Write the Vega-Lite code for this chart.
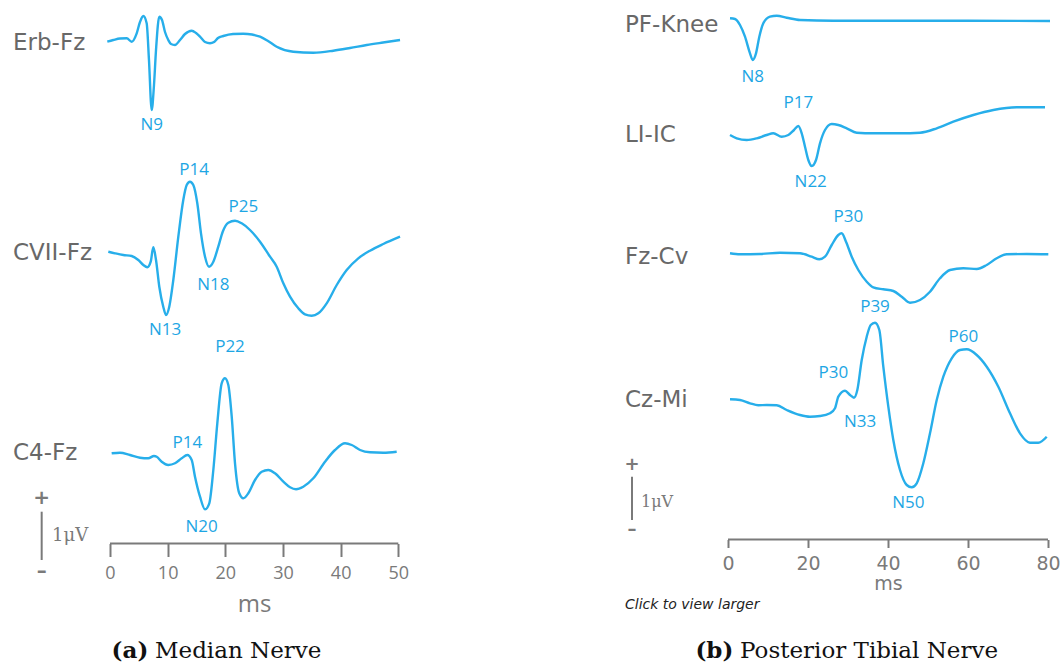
{
  "$schema": "https://vega.github.io/schema/vega-lite/v6.json",
  "padding": 0,
  "spacing": 0,
  "config": {"view": {"stroke": null}, "concat": {"spacing": 0}},
  "datasets": {
    "median": [
      {"trace":"Erb-Fz","t":-0.47,"v":620.3},{"trace":"Erb-Fz","t":0.57,"v":622},{"trace":"Erb-Fz","t":1.73,"v":623.5},{"trace":"Erb-Fz","t":2.9,"v":623.7},{"trace":"Erb-Fz","t":3.76,"v":620.3},{"trace":"Erb-Fz","t":4.63,"v":628.7},{"trace":"Erb-Fz","t":5.2,"v":640},{"trace":"Erb-Fz","t":5.78,"v":646},{"trace":"Erb-Fz","t":6.36,"v":638.7},{"trace":"Erb-Fz","t":6.76,"v":602},{"trace":"Erb-Fz","t":7.23,"v":552},{"trace":"Erb-Fz","t":7.63,"v":577},{"trace":"Erb-Fz","t":7.98,"v":612},{"trace":"Erb-Fz","t":8.55,"v":645.3},{"trace":"Erb-Fz","t":9.02,"v":642},{"trace":"Erb-Fz","t":9.54,"v":630},{"trace":"Erb-Fz","t":10.11,"v":622},{"trace":"Erb-Fz","t":10.58,"v":618},{"trace":"Erb-Fz","t":11.27,"v":617},{"trace":"Erb-Fz","t":12.14,"v":622},{"trace":"Erb-Fz","t":13.01,"v":628},{"trace":"Erb-Fz","t":14.17,"v":631.3},{"trace":"Erb-Fz","t":14.92,"v":629},{"trace":"Erb-Fz","t":15.61,"v":625.3},{"trace":"Erb-Fz","t":16.48,"v":620},{"trace":"Erb-Fz","t":17.34,"v":618.7},{"trace":"Erb-Fz","t":18.04,"v":620},{"trace":"Erb-Fz","t":18.73,"v":624},{"trace":"Erb-Fz","t":19.65,"v":626},{"trace":"Erb-Fz","t":21.33,"v":628},{"trace":"Erb-Fz","t":23.12,"v":628.3},{"trace":"Erb-Fz","t":24.63,"v":627.5},{"trace":"Erb-Fz","t":26.02,"v":625.3},{"trace":"Erb-Fz","t":27.4,"v":621},{"trace":"Erb-Fz","t":28.91,"v":615.3},{"trace":"Erb-Fz","t":31.79,"v":610.3},{"trace":"Erb-Fz","t":35.26,"v":609.3},{"trace":"Erb-Fz","t":38.73,"v":611.3},{"trace":"Erb-Fz","t":41.62,"v":614},{"trace":"Erb-Fz","t":44.52,"v":617},{"trace":"Erb-Fz","t":47.35,"v":619.5},{"trace":"Erb-Fz","t":50.3,"v":622},
      {"trace":"CVII-Fz","t":-0.29,"v":410.3},{"trace":"CVII-Fz","t":0.87,"v":408.7},{"trace":"CVII-Fz","t":2.31,"v":407},{"trace":"CVII-Fz","t":3.76,"v":406},{"trace":"CVII-Fz","t":4.91,"v":402},{"trace":"CVII-Fz","t":5.78,"v":397},{"trace":"CVII-Fz","t":6.47,"v":394.7},{"trace":"CVII-Fz","t":7.06,"v":400.3},{"trace":"CVII-Fz","t":7.51,"v":414.7},{"trace":"CVII-Fz","t":7.98,"v":402},{"trace":"CVII-Fz","t":8.55,"v":375.3},{"trace":"CVII-Fz","t":9.24,"v":355.3},{"trace":"CVII-Fz","t":9.71,"v":347},{"trace":"CVII-Fz","t":10.28,"v":355.3},{"trace":"CVII-Fz","t":10.98,"v":382},{"trace":"CVII-Fz","t":11.85,"v":425.3},{"trace":"CVII-Fz","t":12.71,"v":462},{"trace":"CVII-Fz","t":13.3,"v":477},{"trace":"CVII-Fz","t":13.87,"v":480.3},{"trace":"CVII-Fz","t":14.45,"v":477},{"trace":"CVII-Fz","t":15.14,"v":458.7},{"trace":"CVII-Fz","t":15.78,"v":428.7},{"trace":"CVII-Fz","t":16.48,"v":405.3},{"trace":"CVII-Fz","t":17.17,"v":395.3},{"trace":"CVII-Fz","t":17.92,"v":400.3},{"trace":"CVII-Fz","t":18.78,"v":415.3},{"trace":"CVII-Fz","t":19.55,"v":430.3},{"trace":"CVII-Fz","t":20.52,"v":439.3},{"trace":"CVII-Fz","t":21.68,"v":441.3},{"trace":"CVII-Fz","t":22.84,"v":438.7},{"trace":"CVII-Fz","t":24.28,"v":432},{"trace":"CVII-Fz","t":26.02,"v":420.3},{"trace":"CVII-Fz","t":27.75,"v":405.3},{"trace":"CVII-Fz","t":28.91,"v":395.3},{"trace":"CVII-Fz","t":30.06,"v":378.7},{"trace":"CVII-Fz","t":31.22,"v":365.3},{"trace":"CVII-Fz","t":32.66,"v":353.7},{"trace":"CVII-Fz","t":33.82,"v":347.7},{"trace":"CVII-Fz","t":34.98,"v":346.3},{"trace":"CVII-Fz","t":36.13,"v":348.7},{"trace":"CVII-Fz","t":37.58,"v":358.7},{"trace":"CVII-Fz","t":39.32,"v":377},{"trace":"CVII-Fz","t":41.05,"v":392},{"trace":"CVII-Fz","t":43.06,"v":403.7},{"trace":"CVII-Fz","t":45.09,"v":411.3},{"trace":"CVII-Fz","t":47.4,"v":418},{"trace":"CVII-Fz","t":50.3,"v":425.3},
      {"trace":"C4-Fz","t":0.29,"v":208.7},{"trace":"C4-Fz","t":1.73,"v":209.3},{"trace":"C4-Fz","t":3.47,"v":207},{"trace":"C4-Fz","t":5.2,"v":204.3},{"trace":"C4-Fz","t":6.64,"v":203.7},{"trace":"C4-Fz","t":7.63,"v":206},{"trace":"C4-Fz","t":8.1,"v":205.3},{"trace":"C4-Fz","t":8.97,"v":200.3},{"trace":"C4-Fz","t":10.11,"v":197},{"trace":"C4-Fz","t":11.27,"v":198.7},{"trace":"C4-Fz","t":12.43,"v":203.7},{"trace":"C4-Fz","t":13.41,"v":207},{"trace":"C4-Fz","t":14.17,"v":202},{"trace":"C4-Fz","t":14.74,"v":185.3},{"trace":"C4-Fz","t":15.61,"v":165.3},{"trace":"C4-Fz","t":16.48,"v":152.7},{"trace":"C4-Fz","t":17.22,"v":158.7},{"trace":"C4-Fz","t":17.92,"v":192},{"trace":"C4-Fz","t":18.61,"v":238.7},{"trace":"C4-Fz","t":19.37,"v":278.7},{"trace":"C4-Fz","t":19.94,"v":283.7},{"trace":"C4-Fz","t":20.52,"v":277},{"trace":"C4-Fz","t":21.11,"v":245.3},{"trace":"C4-Fz","t":21.68,"v":198.7},{"trace":"C4-Fz","t":22.42,"v":168.7},{"trace":"C4-Fz","t":23.12,"v":163.7},{"trace":"C4-Fz","t":23.99,"v":168.7},{"trace":"C4-Fz","t":25.15,"v":182},{"trace":"C4-Fz","t":26.31,"v":190.3},{"trace":"C4-Fz","t":27.45,"v":192},{"trace":"C4-Fz","t":28.62,"v":188.7},{"trace":"C4-Fz","t":30.06,"v":180.3},{"trace":"C4-Fz","t":31.22,"v":174.7},{"trace":"C4-Fz","t":32.26,"v":172.7},{"trace":"C4-Fz","t":33.52,"v":175.3},{"trace":"C4-Fz","t":35.26,"v":183.7},{"trace":"C4-Fz","t":37.29,"v":200.3},{"trace":"C4-Fz","t":39.02,"v":212},{"trace":"C4-Fz","t":40.76,"v":218.7},{"trace":"C4-Fz","t":41.92,"v":217},{"trace":"C4-Fz","t":43.36,"v":212},{"trace":"C4-Fz","t":45.09,"v":209.7},{"trace":"C4-Fz","t":47.4,"v":209.3},{"trace":"C4-Fz","t":49.72,"v":210.3}
    ],
    "tibial": [
      {"trace":"PF-Knee","t":0.5,"v":643.7},{"trace":"PF-Knee","t":1.75,"v":643},{"trace":"PF-Knee","t":3,"v":637},{"trace":"PF-Knee","t":4.25,"v":625.3},{"trace":"PF-Knee","t":5.5,"v":608.7},{"trace":"PF-Knee","t":6.18,"v":602},{"trace":"PF-Knee","t":7,"v":608.7},{"trace":"PF-Knee","t":7.83,"v":625.3},{"trace":"PF-Knee","t":8.83,"v":638.7},{"trace":"PF-Knee","t":10.5,"v":645.3},{"trace":"PF-Knee","t":12.18,"v":646.3},{"trace":"PF-Knee","t":14.68,"v":644.3},{"trace":"PF-Knee","t":18,"v":642},{"trace":"PF-Knee","t":26.33,"v":641.3},{"trace":"PF-Knee","t":43,"v":641.3},{"trace":"PF-Knee","t":59.68,"v":641.3},{"trace":"PF-Knee","t":80.5,"v":641},
      {"trace":"LI-IC","t":0.5,"v":527},{"trace":"LI-IC","t":2.18,"v":523.7},{"trace":"LI-IC","t":4.68,"v":522},{"trace":"LI-IC","t":7.18,"v":523.7},{"trace":"LI-IC","t":9.68,"v":527},{"trace":"LI-IC","t":11.33,"v":528.7},{"trace":"LI-IC","t":13.43,"v":525.3},{"trace":"LI-IC","t":15.08,"v":527},{"trace":"LI-IC","t":16.5,"v":532},{"trace":"LI-IC","t":17.58,"v":536},{"trace":"LI-IC","t":18.43,"v":528.7},{"trace":"LI-IC","t":19.25,"v":515.3},{"trace":"LI-IC","t":20.08,"v":502},{"trace":"LI-IC","t":20.93,"v":496},{"trace":"LI-IC","t":22,"v":502},{"trace":"LI-IC","t":23,"v":518.7},{"trace":"LI-IC","t":24.25,"v":532},{"trace":"LI-IC","t":25.93,"v":538},{"trace":"LI-IC","t":27.58,"v":537},{"trace":"LI-IC","t":29.68,"v":533.7},{"trace":"LI-IC","t":32.18,"v":529.3},{"trace":"LI-IC","t":36.33,"v":528.7},{"trace":"LI-IC","t":43,"v":528.7},{"trace":"LI-IC","t":48,"v":529.3},{"trace":"LI-IC","t":52.18,"v":533.7},{"trace":"LI-IC","t":56.33,"v":540.3},{"trace":"LI-IC","t":61.33,"v":547},{"trace":"LI-IC","t":66.33,"v":552},{"trace":"LI-IC","t":72.18,"v":554.7},{"trace":"LI-IC","t":79.25,"v":554.7},
      {"trace":"Fz-Cv","t":0.5,"v":408.7},{"trace":"Fz-Cv","t":3,"v":407.7},{"trace":"Fz-Cv","t":8,"v":408},{"trace":"Fz-Cv","t":13,"v":409.3},{"trace":"Fz-Cv","t":18,"v":408.7},{"trace":"Fz-Cv","t":20.93,"v":405.3},{"trace":"Fz-Cv","t":22.83,"v":402.7},{"trace":"Fz-Cv","t":24.25,"v":405.3},{"trace":"Fz-Cv","t":25.93,"v":417},{"trace":"Fz-Cv","t":27.58,"v":427},{"trace":"Fz-Cv","t":28.43,"v":428.7},{"trace":"Fz-Cv","t":29.5,"v":420.3},{"trace":"Fz-Cv","t":30.93,"v":405.3},{"trace":"Fz-Cv","t":32.58,"v":392},{"trace":"Fz-Cv","t":34.68,"v":380.3},{"trace":"Fz-Cv","t":36.33,"v":374.7},{"trace":"Fz-Cv","t":38.83,"v":372.7},{"trace":"Fz-Cv","t":41.33,"v":371},{"trace":"Fz-Cv","t":43.43,"v":365.3},{"trace":"Fz-Cv","t":45.5,"v":359.3},{"trace":"Fz-Cv","t":48,"v":362},{"trace":"Fz-Cv","t":50.5,"v":370.3},{"trace":"Fz-Cv","t":53,"v":383.7},{"trace":"Fz-Cv","t":55.5,"v":392},{"trace":"Fz-Cv","t":58.83,"v":393.7},{"trace":"Fz-Cv","t":62.18,"v":393},{"trace":"Fz-Cv","t":64.68,"v":397},{"trace":"Fz-Cv","t":67.18,"v":403.7},{"trace":"Fz-Cv","t":69.68,"v":407.7},{"trace":"Fz-Cv","t":74.68,"v":408},{"trace":"Fz-Cv","t":80.08,"v":407.7},
      {"trace":"Cz-Mi","t":0.5,"v":262.7},{"trace":"Cz-Mi","t":3,"v":262},{"trace":"Cz-Mi","t":5.5,"v":258.7},{"trace":"Cz-Mi","t":7.58,"v":256.7},{"trace":"Cz-Mi","t":9.68,"v":257},{"trace":"Cz-Mi","t":12.18,"v":256.7},{"trace":"Cz-Mi","t":14.68,"v":252},{"trace":"Cz-Mi","t":18,"v":247},{"trace":"Cz-Mi","t":20.5,"v":245.3},{"trace":"Cz-Mi","t":23,"v":246},{"trace":"Cz-Mi","t":25.5,"v":248.7},{"trace":"Cz-Mi","t":26.75,"v":253.7},{"trace":"Cz-Mi","t":27.58,"v":265.3},{"trace":"Cz-Mi","t":29.25,"v":271.3},{"trace":"Cz-Mi","t":30.5,"v":267},{"trace":"Cz-Mi","t":31.5,"v":264.3},{"trace":"Cz-Mi","t":32.33,"v":272},{"trace":"Cz-Mi","t":33.43,"v":302},{"trace":"Cz-Mi","t":34.68,"v":325.3},{"trace":"Cz-Mi","t":35.68,"v":337},{"trace":"Cz-Mi","t":36.75,"v":339.3},{"trace":"Cz-Mi","t":37.83,"v":332},{"trace":"Cz-Mi","t":38.83,"v":295.3},{"trace":"Cz-Mi","t":40.08,"v":255.3},{"trace":"Cz-Mi","t":41.33,"v":222},{"trace":"Cz-Mi","t":43,"v":192},{"trace":"Cz-Mi","t":44.68,"v":177},{"trace":"Cz-Mi","t":45.93,"v":174.7},{"trace":"Cz-Mi","t":47.18,"v":178.7},{"trace":"Cz-Mi","t":48.83,"v":198.7},{"trace":"Cz-Mi","t":50.5,"v":228.7},{"trace":"Cz-Mi","t":52.18,"v":262},{"trace":"Cz-Mi","t":53.83,"v":285.3},{"trace":"Cz-Mi","t":55.93,"v":303.7},{"trace":"Cz-Mi","t":58,"v":312},{"trace":"Cz-Mi","t":59.68,"v":312.7},{"trace":"Cz-Mi","t":62.18,"v":307},{"trace":"Cz-Mi","t":64.68,"v":295.3},{"trace":"Cz-Mi","t":67.58,"v":275.3},{"trace":"Cz-Mi","t":70.5,"v":248.7},{"trace":"Cz-Mi","t":73,"v":228.7},{"trace":"Cz-Mi","t":75.5,"v":219.3},{"trace":"Cz-Mi","t":77.58,"v":219.3},{"trace":"Cz-Mi","t":79.68,"v":225.3}
    ],
    "medianPeaks": [
      {"label":"N9","t":7.23,"v":537},{"label":"P14","t":14.57,"v":492},{"label":"P25","t":23.12,"v":455.3},{"label":"N18","t":17.92,"v":377},{"label":"N13","t":9.54,"v":332},{"label":"P22","t":20.81,"v":315.3},{"label":"P14","t":13.41,"v":219},{"label":"N20","t":15.9,"v":135.3}
    ],
    "tibialPeaks": [
      {"label":"N8","t":6.18,"v":585.3},{"label":"P17","t":17.58,"v":558.7},{"label":"N22","t":20.68,"v":480.3},{"label":"P30","t":30.08,"v":445.3},{"label":"P39","t":36.75,"v":355},{"label":"P30","t":26.33,"v":288.7},{"label":"N33","t":33,"v":240.3},{"label":"P60","t":58.83,"v":325.3},{"label":"N50","t":45.08,"v":158.7}
    ],
    "medianNames": [{"name":"Erb-Fz","t":-16.82,"v":618.7},{"name":"CVII-Fz","t":-16.82,"v":408.7},{"name":"C4-Fz","t":-16.82,"v":208.7}],
    "tibialNames": [{"name":"PF-Knee","t":-25.75,"v":637},{"name":"LI-IC","t":-25.75,"v":527},{"name":"Fz-Cv","t":-25.75,"v":405.3},{"name":"Cz-Mi","t":-25.75,"v":262}],
    "medianBar": [{"t":-11.85,"v":150.3,"v2":102}],
    "medianSigns": [{"txt":"+","t":-11.85,"v":163.7},{"txt":"–","t":-11.85,"v":91.3}],
    "medianUnit": [{"txt":"1μV","t":-10.06,"v":126}],
    "medianAxisLine": [{"t":0,"t1":50,"v":118.5}],
    "tibialBar": [{"t":-24,"v":185.3,"v2":142}],
    "tibialSigns": [{"txt":"+","t":-24,"v":197},{"txt":"–","t":-24,"v":132}],
    "tibialUnit": [{"txt":"1μV","t":-21.75,"v":160.3}],
    "tibialAxisLine": [{"t":0,"t1":80,"v":122.5}],
    "medianCapBold": [{"txt":"(a)","t":6.64,"v":4}],
    "medianCap": [{"txt":"Median Nerve","t":7.8,"v":4}],
    "tibialCapBold": [{"txt":"(b)","t":1.33,"v":4}],
    "tibialCap": [{"txt":"Posterior Tibial Nerve","t":3.0,"v":4}],
    "tibialNote": [{"txt":"Click to view larger","t":-25.75,"v":57}]
  },
  "hconcat": [
    {
      "width": 530,
      "height": 662,
      "encoding": {
        "x": {"field":"t","type":"quantitative","scale":{"domain":[-19.077,72.84],"nice":false,"zero":false},
          "axis":{"values":[0,10,20,30,40,50],"domain":false,"grid":false,"offset":-118.5,"tickSize":13,"tickWidth":2,"tickColor":"#7a7a7a","labelFont":"Open Sans","labelFontSize":18,"labelColor":"#7a7a7a","labelPadding":8,"labelFlush":false,"labelOverlap":false,"title":"ms","titleFont":"Open Sans","titleFontSize":24,"titleFontWeight":"normal","titleColor":"#7a7a7a","titlePadding":10,"titleX":254,"titleAlign":"center","titleAnchor":null}},
        "y": {"field":"v","type":"quantitative","scale":{"domain":[0,662],"nice":false,"zero":false},"axis":null}
      },
      "layer": [
        {"data":{"name":"medianAxisLine"},"mark":{"type":"rule","color":"#7a7a7a","strokeWidth":2},"encoding":{"x2":{"field":"t1"}}},
        {"data":{"name":"median"},"mark":{"type":"line","interpolate":"monotone","color":"#27AEEA","strokeWidth":2.4},"encoding":{"detail":{"field":"trace"}}},
        {"data":{"name":"medianPeaks"},"mark":{"type":"text","font":"Open Sans","fontSize":17,"color":"#1DA6E4"},"encoding":{"text":{"field":"label"}}},
        {"data":{"name":"medianNames"},"mark":{"type":"text","align":"left","font":"DejaVu Sans","fontSize":23,"color":"#686868"},"encoding":{"text":{"field":"name"}}},
        {"data":{"name":"medianBar"},"mark":{"type":"rule","color":"#7a7a7a","strokeWidth":2},"encoding":{"y2":{"field":"v2"}}},
        {"data":{"name":"medianSigns"},"mark":{"type":"text","font":"DejaVu Sans","fontSize":20,"fontWeight":"bold","color":"#7a7a7a"},"encoding":{"text":{"field":"txt"}}},
        {"data":{"name":"medianUnit"},"mark":{"type":"text","align":"left","font":"DejaVu Serif","fontSize":18,"color":"#7a7a7a"},"encoding":{"text":{"field":"txt"}}},
        {"data":{"name":"medianCapBold"},"mark":{"type":"text","align":"right","baseline":"alphabetic","font":"DejaVu Serif","fontSize":23,"fontWeight":"bold","color":"#111111"},"encoding":{"text":{"field":"txt"}}},
        {"data":{"name":"medianCap"},"mark":{"type":"text","align":"left","baseline":"alphabetic","font":"DejaVu Serif","fontSize":23,"color":"#111111"},"encoding":{"text":{"field":"txt"}}}
      ]
    },
    {
      "width": 533,
      "height": 662,
      "encoding": {
        "x": {"field":"t","type":"quantitative","scale":{"domain":[-49.5,83.75],"nice":false,"zero":false},
          "axis":{"values":[0,20,40,60,80],"domain":false,"grid":false,"offset":-122.5,"tickSize":8,"tickWidth":2,"tickColor":"#7a7a7a","labelFont":"DejaVu Sans","labelFontSize":19,"labelColor":"#7a7a7a","labelPadding":7,"labelFlush":false,"labelOverlap":false,"title":"ms","titleFont":"DejaVu Sans","titleFontSize":19,"titleFontWeight":"normal","titleColor":"#7a7a7a","titlePadding":1,"titleX":358,"titleAlign":"center","titleAnchor":null}},
        "y": {"field":"v","type":"quantitative","scale":{"domain":[0,662],"nice":false,"zero":false},"axis":null}
      },
      "layer": [
        {"data":{"name":"tibialAxisLine"},"mark":{"type":"rule","color":"#7a7a7a","strokeWidth":2},"encoding":{"x2":{"field":"t1"}}},
        {"data":{"name":"tibial"},"mark":{"type":"line","interpolate":"monotone","color":"#27AEEA","strokeWidth":2.4},"encoding":{"detail":{"field":"trace"}}},
        {"data":{"name":"tibialPeaks"},"mark":{"type":"text","font":"Open Sans","fontSize":17,"color":"#1DA6E4"},"encoding":{"text":{"field":"label"}}},
        {"data":{"name":"tibialNames"},"mark":{"type":"text","align":"left","font":"DejaVu Sans","fontSize":23,"color":"#686868"},"encoding":{"text":{"field":"name"}}},
        {"data":{"name":"tibialBar"},"mark":{"type":"rule","color":"#7a7a7a","strokeWidth":2},"encoding":{"y2":{"field":"v2"}}},
        {"data":{"name":"tibialSigns"},"mark":{"type":"text","font":"DejaVu Sans","fontSize":18,"fontWeight":"bold","color":"#7a7a7a"},"encoding":{"text":{"field":"txt"}}},
        {"data":{"name":"tibialUnit"},"mark":{"type":"text","align":"left","font":"DejaVu Serif","fontSize":16,"color":"#7a7a7a"},"encoding":{"text":{"field":"txt"}}},
        {"data":{"name":"tibialNote"},"mark":{"type":"text","align":"left","font":"DejaVu Sans","fontSize":14,"fontStyle":"italic","color":"#222222"},"encoding":{"text":{"field":"txt"}}},
        {"data":{"name":"tibialCapBold"},"mark":{"type":"text","align":"right","baseline":"alphabetic","font":"DejaVu Serif","fontSize":23,"fontWeight":"bold","color":"#111111"},"encoding":{"text":{"field":"txt"}}},
        {"data":{"name":"tibialCap"},"mark":{"type":"text","align":"left","baseline":"alphabetic","font":"DejaVu Serif","fontSize":23,"color":"#111111"},"encoding":{"text":{"field":"txt"}}}
      ]
    }
  ]
}
